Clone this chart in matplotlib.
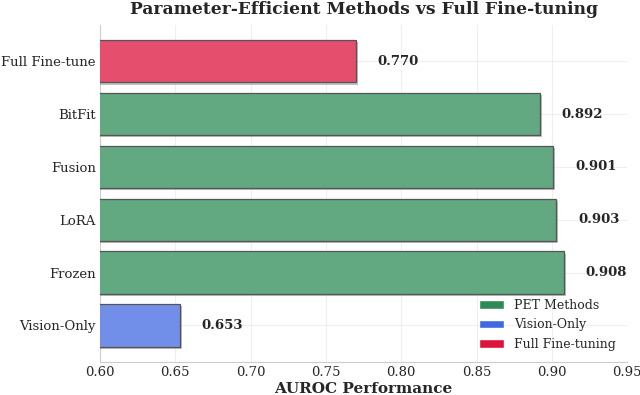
import numpy as np
import matplotlib
matplotlib.use('Agg')
import matplotlib.pyplot as plt
import matplotlib.patheffects as pe
from matplotlib.colors import to_rgb
from matplotlib.patches import Patch
import seaborn as sns

sns.set_style('whitegrid')
plt.rcParams['font.family'] = ['DejaVu Serif']

methods = ['Vision-Only', 'Frozen', 'LoRA', 'Fusion', 'BitFit', 'Full Fine-tune']
auroc = [0.653, 0.908, 0.903, 0.901, 0.892, 0.770]
groups = ['vision', 'pet', 'pet', 'pet', 'pet', 'full']
group_colors = {'pet': '#2E8B57', 'vision': '#4169E1', 'full': '#DC143C'}
legend_names = {'pet': 'PET Methods', 'vision': 'Vision-Only', 'full': 'Full Fine-tuning'}


def lighten(c, a=0.75):
    # opaque version of colour c at alpha a over white (so the shadow won't show through)
    r, g, b = to_rgb(c)
    return (1 - a + a * r, 1 - a + a * g, 1 - a + a * b)


fig, ax = plt.subplots(figsize=(6.4, 3.95), dpi=100)
fig.subplots_adjust(left=0.156, right=0.98, top=0.937, bottom=0.084)

y = np.arange(len(methods))
bars = ax.barh(y, auroc, height=0.8, color=[lighten(group_colors[g]) for g in groups],
               edgecolor='#555555', linewidth=0.9, zorder=3)
for b in bars:
    b.set_path_effects([pe.SimplePatchShadow(offset=(1.5, -1.5), shadow_rgbFace='gray', alpha=0.5),
                        pe.Normal()])

for yi, v in zip(y, auroc):
    ax.text(v + 0.0145, yi, f'{v:.3f}', va='center', ha='left', fontsize=9.5, fontweight='bold')

ax.set_yticks(y)
ax.set_yticklabels(methods, fontsize=9.5)
ax.set_xlim(0.6, 0.95)
ticks = np.arange(0.60, 0.951, 0.05)
ax.set_xticks(ticks)
ax.set_xticklabels([f'{t:.2f}' for t in ticks], fontsize=9.5)
ax.set_xlabel('AUROC Performance', fontsize=11, fontweight='bold', labelpad=2)
ax.set_title('Parameter-Efficient Methods vs Full Fine-tuning', fontsize=12.3, fontweight='bold', pad=8)
ax.grid(True, alpha=0.3)
ax.set_axisbelow(True)
ax.tick_params(axis='both', length=0, pad=3)

for s in ['top', 'right']:
    ax.spines[s].set_visible(False)
for s in ['left', 'bottom']:
    ax.spines[s].set_color('#cccccc')

handles = [Patch(facecolor=group_colors[k], label=legend_names[k]) for k in ['pet', 'vision', 'full']]
ax.legend(handles=handles, loc='lower right', frameon=False, fontsize=9)

fig.savefig('out.png', dpi=100)
